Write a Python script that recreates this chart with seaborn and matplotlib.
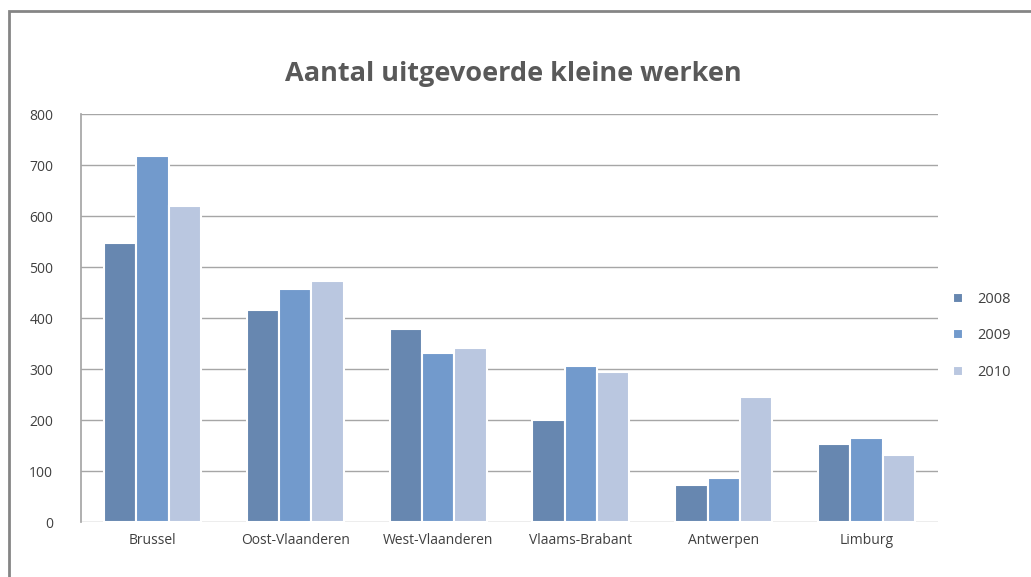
import matplotlib
matplotlib.use('Agg')
import matplotlib.pyplot as plt
import matplotlib.patches as mpatches
import pandas as pd
import seaborn as sns

regions = ['Brussel', 'Oost-Vlaanderen', 'West-Vlaanderen', 'Vlaams-Brabant', 'Antwerpen', 'Limburg']
years = ['2008', '2009', '2010']
v2008 = [547, 416, 378, 200, 73, 153]
v2009 = [718, 457, 331, 306, 87, 165]
v2010 = [620, 473, 341, 294, 245, 131]
colors = ['#6787B0', '#729ACC', '#BAC7E0']

df = pd.DataFrame({'regio': regions * 3,
                   'jaar': [y for y in years for _ in regions],
                   'aantal': v2008 + v2009 + v2010})

sns.set_theme(style='white')
plt.rcParams['font.family'] = ['Open Sans', 'DejaVu Sans']

fig = plt.figure(figsize=(10.31, 5.77), dpi=100)
ax = fig.add_axes([0.0786, 0.0953, 0.8312, 0.7071])

sns.barplot(data=df, x='regio', y='aantal', hue='jaar', palette=colors,
            width=0.68, edgecolor='white', linewidth=1.5, saturation=1, ax=ax)

ax.set_ylim(0, 800)
ax.set_yticks(range(0, 801, 100))
ax.yaxis.grid(True, color='#A6A6A6', linewidth=1)
ax.set_axisbelow(True)
ax.set_xlabel('')
ax.set_ylabel('')
for s in ['top', 'right', 'bottom']:
    ax.spines[s].set_visible(False)
ax.spines['left'].set_color('#A6A6A6')
ax.tick_params(axis='both', length=0, labelsize=10, colors='#404040', pad=8)
ax.tick_params(axis='y', pad=20)

fig.suptitle('Aantal uitgevoerde kleine werken', x=0.498, y=0.895,
             fontsize=19.5, fontweight='bold', color='#595959')

handles, labels = ax.get_legend_handles_labels()
ax.legend(handles, labels, loc='center left', bbox_to_anchor=(1.002, 0.456),
          frameon=False, fontsize=10.5, labelcolor='#404040',
          handlelength=0.7, handleheight=0.7, labelspacing=1.47, handletextpad=1.0)

# outer chart border
fig.patches.append(mpatches.Rectangle((9 / 1031, -0.1), 1.2, (577 - 11) / 577 + 0.1,
                                      transform=fig.transFigure, fill=False,
                                      edgecolor='#858585', linewidth=2))

fig.savefig('out.png', dpi=100)
